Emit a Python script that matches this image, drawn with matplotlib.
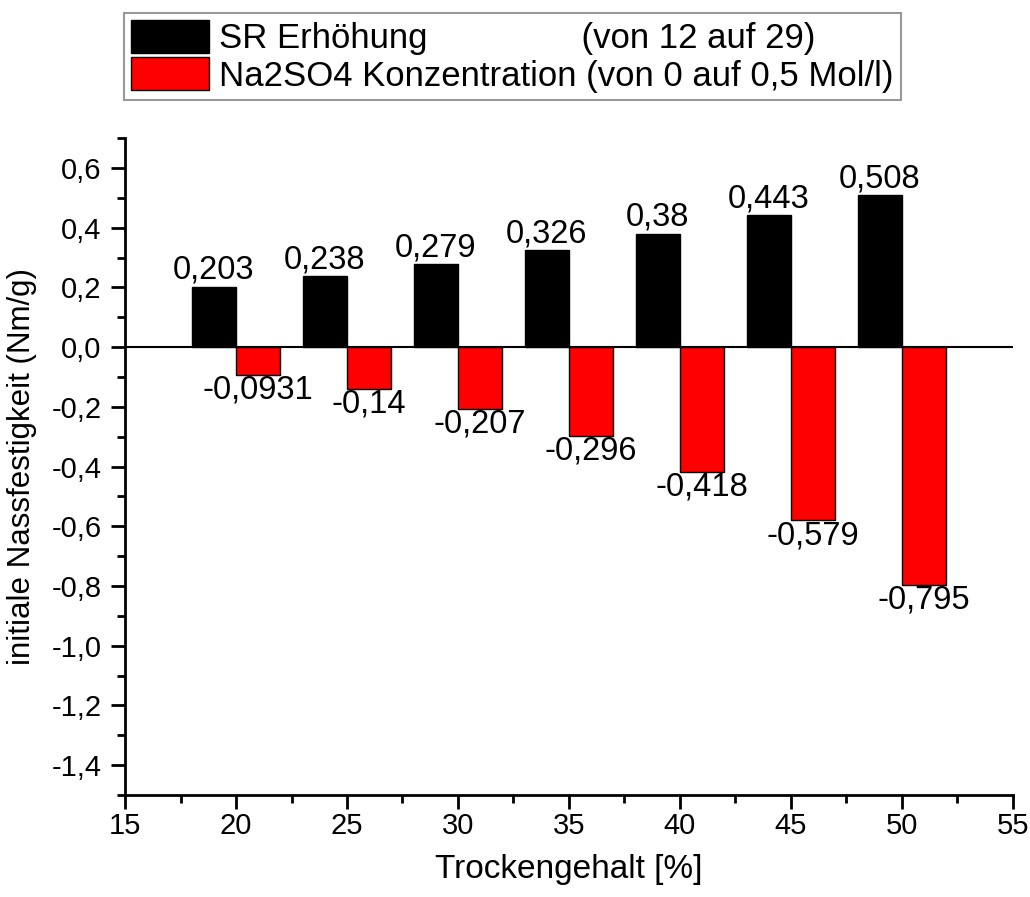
import matplotlib.pyplot as plt
from matplotlib.ticker import MultipleLocator, FuncFormatter
from matplotlib.patches import Patch

plt.rcParams['font.family'] = ['Liberation Sans', 'DejaVu Sans']

# Trockengehalt [%]
trockengehalt = [20, 25, 30, 35, 40, 45, 50]
# Einfluss SR Erhöhung (von 12 auf 29)
sr_erhoehung = [0.203, 0.238, 0.279, 0.326, 0.38, 0.443, 0.508]
# Einfluss Na2SO4 Konzentration (von 0 auf 0,5 Mol/l)
na2so4 = [-0.0931, -0.14, -0.207, -0.296, -0.418, -0.579, -0.795]

label_sr = 'SR Erhöhung' + ' ' * 16 + '(von 12 auf 29)'
label_na = 'Na2SO4 Konzentration (von 0 auf 0,5 Mol/l)'


def de_fmt(v):
    # Dezimalkomma statt Punkt
    return ('%g' % v).replace('.', ',')


fig = plt.figure(figsize=(10.3, 8.97), dpi=100)
ax = fig.add_axes([0.1214, 0.1137, 0.862, 0.7323])

bars_sr = ax.bar(trockengehalt, sr_erhoehung, width=-2, align='edge',
                 color='black', edgecolor='black', linewidth=1)
bars_na = ax.bar(trockengehalt, na2so4, width=2, align='edge',
                 color='#ff0000', edgecolor='black', linewidth=1)

ax.axhline(0, color='black', linewidth=1.5, zorder=3)

for b, v in zip(bars_sr, sr_erhoehung):
    ax.annotate(de_fmt(v), (b.get_x() + b.get_width() / 2, v),
                xytext=(0, 0.5), textcoords='offset points',
                ha='center', va='bottom', fontsize=23.5)
for b, v in zip(bars_na, na2so4):
    ax.annotate(de_fmt(v), (b.get_x() + b.get_width() / 2, v),
                xytext=(0, 0), textcoords='offset points',
                ha='center', va='top', fontsize=23.5)

ax.set_xlim(15, 55)
ax.set_ylim(-1.5, 0.7)
ax.xaxis.set_major_locator(MultipleLocator(5))
ax.xaxis.set_minor_locator(MultipleLocator(2.5))
ax.yaxis.set_major_locator(MultipleLocator(0.2))
ax.yaxis.set_minor_locator(MultipleLocator(0.1))
ax.yaxis.set_major_formatter(FuncFormatter(lambda v, p: ('%.1f' % v).replace('.', ',')))

for s in ['top', 'right']:
    ax.spines[s].set_visible(False)
for s in ['left', 'bottom']:
    ax.spines[s].set_linewidth(2)

ax.tick_params(which='major', direction='out', length=10, width=2, labelsize=21)
ax.tick_params(which='minor', direction='out', length=5.5, width=2)
ax.tick_params(axis='x', which='major', pad=2)
ax.tick_params(axis='y', which='major', pad=7)

ax.set_xlabel('Trockengehalt [%]', fontsize=24, labelpad=10)
ax.set_ylabel('initiale Nassfestigkeit (Nm/g)', fontsize=22.5, labelpad=10)

handles = [Patch(facecolor='black', edgecolor='black', label=label_sr),
           Patch(facecolor='#ff0000', edgecolor='black', label=label_na)]
leg = fig.legend(handles=handles, loc='upper left', bbox_to_anchor=(0.1204, 0.9855),
                 fontsize=25, frameon=True, fancybox=False, handlelength=2.25,
                 handleheight=1.1, handletextpad=0.3, labelspacing=0.05,
                 borderpad=0.2, borderaxespad=0)
leg.get_frame().set_edgecolor('#808080')
leg.get_frame().set_linewidth(1.5)

fig.savefig('out.png', dpi=100)
